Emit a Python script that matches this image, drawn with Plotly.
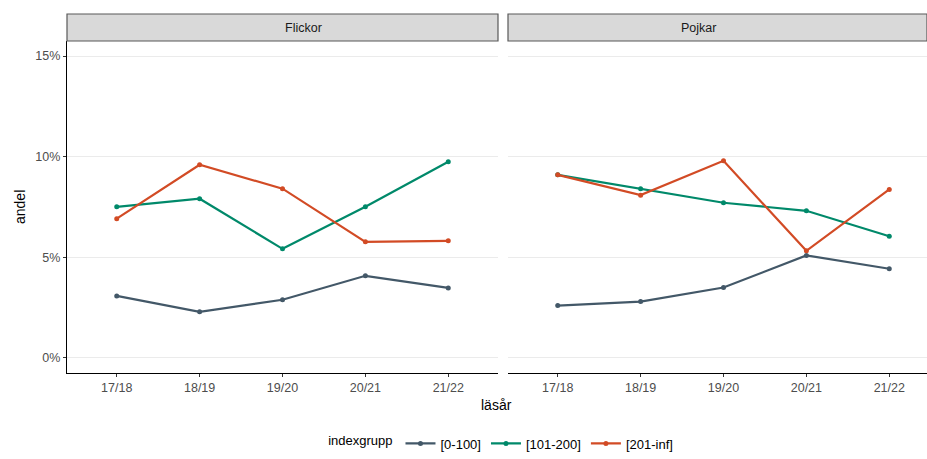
import plotly.graph_objects as go

years = ["17/18", "18/19", "19/20", "20/21", "21/22"]
groups = ["[0-100]", "[101-200]", "[201-inf]"]
colors = ["#435868", "#00896a", "#d24b25"]

flickor = {
    "[0-100]": [3.08, 2.29, 2.89, 4.08, 3.48],
    "[101-200]": [7.51, 7.91, 5.42, 7.51, 9.75],
    "[201-inf]": [6.92, 9.60, 8.41, 5.77, 5.82],
}
pojkar = {
    "[0-100]": [2.60, 2.80, 3.50, 5.09, 4.43],
    "[101-200]": [9.10, 8.41, 7.71, 7.31, 6.05],
    "[201-inf]": [9.10, 8.09, 9.80, 5.32, 8.37],
}
panels = ["Flickor", "Pojkar"]
yticks = [0, 5, 10, 15]
ytick_labels = ["0%", "5%", "10%", "15%"]

fig = go.Figure()
for g, c in zip(groups, colors):
    fig.add_trace(go.Scatter(x=years, y=flickor[g], mode="lines+markers", name=g,
                             line=dict(color=c, width=2.2), marker=dict(color=c, size=5),
                             xaxis="x", yaxis="y", legendgroup=g))
    fig.add_trace(go.Scatter(x=years, y=pojkar[g], mode="lines+markers", name=g,
                             line=dict(color=c, width=2.2), marker=dict(color=c, size=5),
                             xaxis="x2", yaxis="y2", legendgroup=g, showlegend=False))

W, H = 927, 459
ml, mr, mt, mb = 67, 0, 41, 86
pw = W - ml - mr
ph = H - mt - mb
d1 = [0, (498 - ml) / pw]
d2 = [(508 - ml) / pw, 1]
xr1 = [-0.6, 4.6]
xr2 = [-0.6, -0.6 + (W - 508) / ((498 - ml) / 5.2)]

tickfont = dict(family="Liberation Sans, Arial, sans-serif", size=12.5, color="#4d4d4d")
common_x = dict(type="category", showgrid=False, zeroline=False, showline=True,
                linecolor="black", linewidth=1.2, ticks="outside", ticklen=3,
                tickcolor="#333333", tickfont=tickfont, categoryorder="array",
                categoryarray=years, automargin=False)
common_y = dict(range=[-0.75, 15.75], tickmode="array", tickvals=yticks, ticktext=ytick_labels,
                showgrid=True, gridcolor="#ebebeb", gridwidth=1, zeroline=False,
                tickfont=tickfont, automargin=False)

fig.update_layout(
    width=W, height=H, autosize=False,
    margin=dict(l=ml, r=mr, t=mt, b=mb, pad=0),
    plot_bgcolor="white", paper_bgcolor="white",
    font=dict(family="Liberation Sans, Arial, sans-serif", size=13, color="black"),
    xaxis=dict(domain=d1, range=xr1, anchor="y", **common_x),
    xaxis2=dict(domain=d2, range=xr2, anchor="y2", **common_x),
    yaxis=dict(domain=[0, 1], anchor="x", showline=True, linecolor="black", linewidth=1.2,
               ticks="outside", ticklen=3, tickcolor="#333333", **common_y),
    yaxis2=dict(domain=[0, 1], anchor="x2", showline=False, showticklabels=False,
                ticks="", **common_y),
    showlegend=True,
    legend=dict(orientation="h", x=0.506, xanchor="center", y=-(mb - 0.5) / ph,
                yanchor="bottom", title=dict(text="indexgrupp", side="left",
                                             font=dict(size=13, color="black")),
                font=dict(size=13, color="black"), itemwidth=30, bgcolor="rgba(0,0,0,0)"),
)

strip_top = 1 + 27 / ph
for dom, label in zip([d1, d2], panels):
    fig.add_shape(type="rect", xref="paper", yref="paper", x0=dom[0], x1=dom[1],
                  y0=1, y1=strip_top, fillcolor="#d9d9d9",
                  line=dict(color="#595959", width=1.2), layer="above")
    fig.add_annotation(xref="paper", yref="paper", x=(dom[0] + dom[1]) / 2,
                       y=(1 + strip_top) / 2, text=label, showarrow=False,
                       font=dict(size=12.5, color="#1a1a1a"), yanchor="middle")

fig.add_annotation(xref="paper", yref="paper", x=(496 - ml) / pw, y=(373 - 405) / ph,
                   text="läsår", showarrow=False, yanchor="middle",
                   font=dict(size=14, color="black"))
fig.add_annotation(xref="paper", yref="paper", x=(20 - ml) / pw, y=0.5,
                   text="andel", showarrow=False, textangle=-90, xanchor="center",
                   yanchor="middle", font=dict(size=14, color="black"))

fig.write_html("out.html", config={"displayModeBar": False},
               post_script="document.body.style.margin='0';document.body.style.overflow='hidden';")
